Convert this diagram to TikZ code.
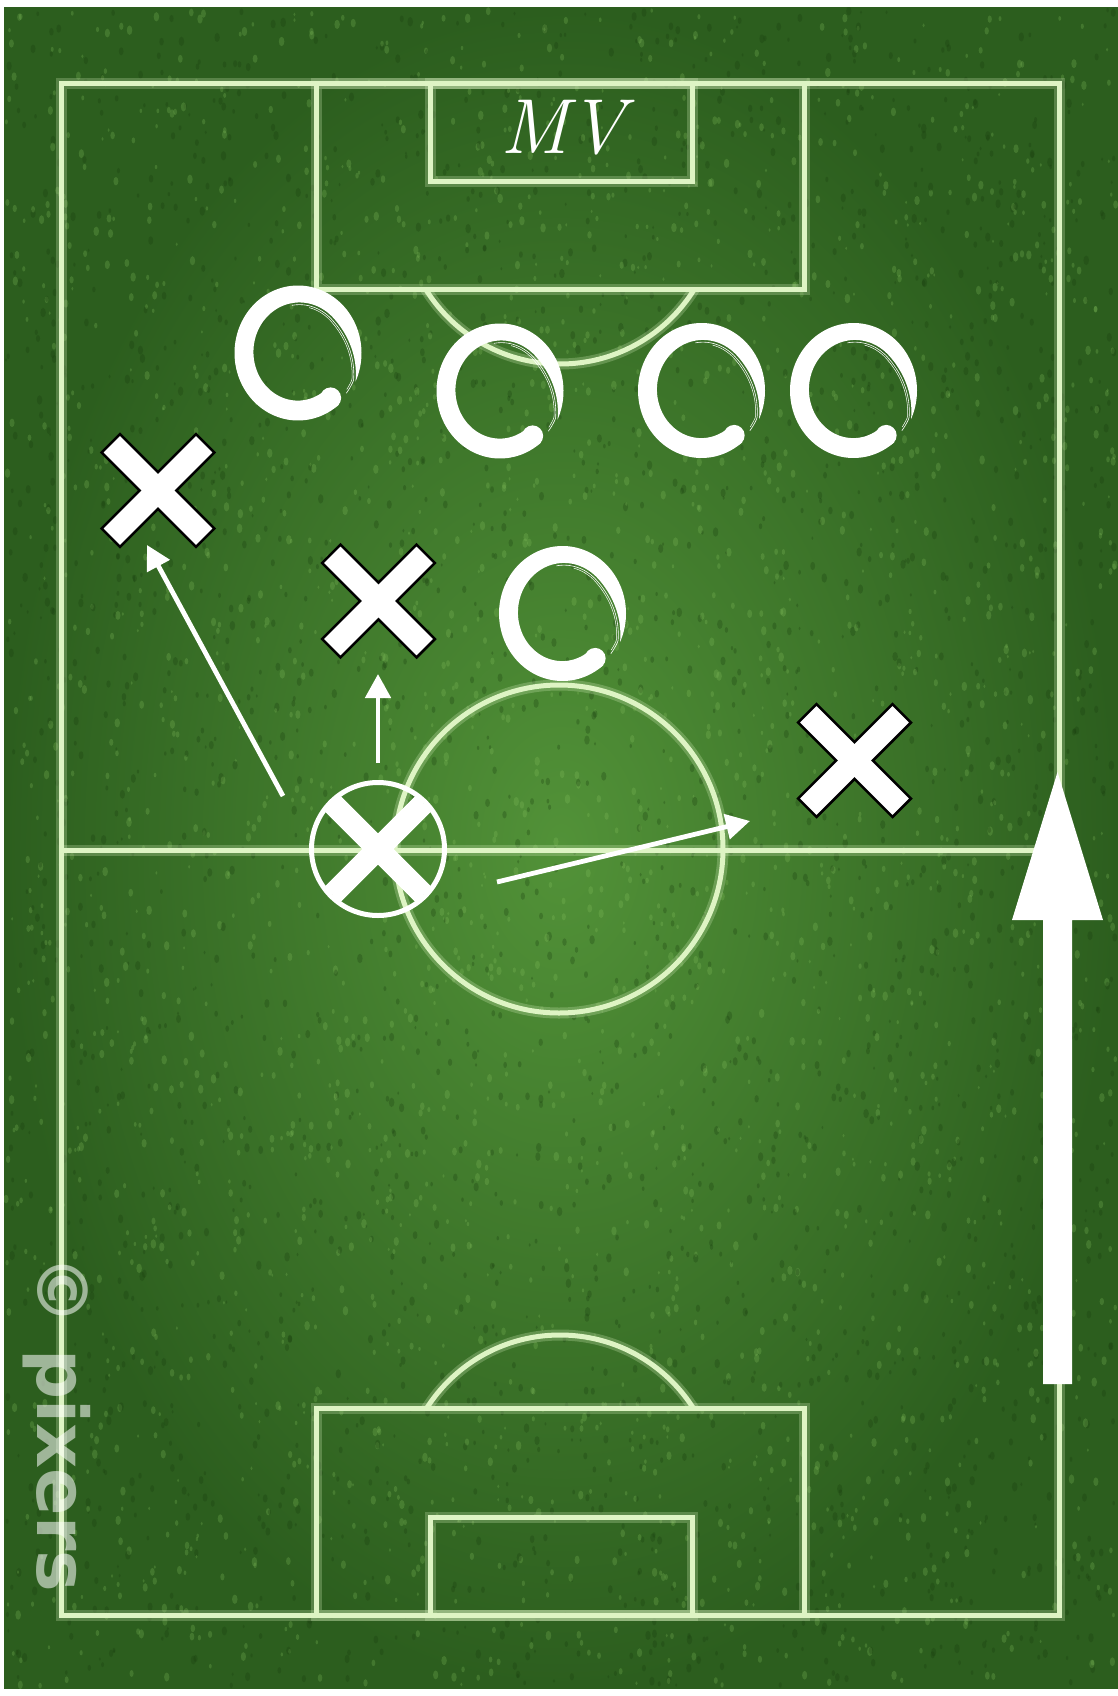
\documentclass[tikz,border=0pt]{standalone}
\usepackage{fontspec}
\newfontfamily\wmfont{DejaVu Sans}
\usetikzlibrary{arrows.meta}
\definecolor{grassA}{RGB}{82,146,56}
\definecolor{grassB}{RGB}{44,94,30}
\definecolor{fieldline}{RGB}{222,244,196}
\definecolor{speckL}{RGB}{135,195,95}
\definecolor{speckD}{RGB}{24,60,14}
\tikzset{
  pitchline/.style={draw=fieldline, line width=5pt,
    preaction={draw=fieldline, line width=11pt, draw opacity=0.25}},
  passarrow/.style={draw=white, line width=4.8pt, -{Triangle[length=24pt,width=25pt]}},
  xmark/.pic={\filldraw[fill=white, draw=black, line width=2.6pt, line join=miter]
    (0,-18.4) -- (38,-56.4) -- (56.4,-38) -- (18.4,0) -- (56.4,38) -- (38,56.4) --
    (0,18.4) -- (-38,56.4) -- (-56.4,38) -- (-18.4,0) -- (-56.4,-38) -- (-38,-56.4) -- cycle;},
  ballx/.pic={\fill[white]
    (0,-15.6) -- (37.8,-53.4) -- (53.4,-37.8) -- (15.6,0) -- (53.4,37.8) -- (37.8,53.4) --
    (0,15.6) -- (-37.8,53.4) -- (-53.4,37.8) -- (-15.6,0) -- (-53.4,-37.8) -- (-37.8,-53.4) -- cycle;},
}
\newcommand\ensoO[2]{%
  \fill[white] plot[domain=-50:-385, samples=120, variable=\t]
      ({#1+63.5*cos(\t)}, {#2-67.5*sin(\t)})
    -- plot[domain=-385:-50, samples=120, variable=\t]
      ({#1+(63.5-ensow(\t))*cos(\t)}, {#2-(67.5-ensow(\t))*sin(\t)}) -- cycle;
  \fill[white] ({#1+53.0*cos(-52)}, {#2-57.0*sin(-52)}) circle (10.5);
  \draw[white, line width=0.6pt] plot[domain=-262:-398, samples=60, variable=\t]
      ({#1+(61.3-ensow(\t))*cos(\t)}, {#2-(65.3-ensow(\t))*sin(\t)});
  \draw[white, line width=0.5pt] plot[domain=-285:-395, samples=60, variable=\t]
      ({#1+(59.5-ensow(\t))*cos(\t)}, {#2-(63.5-ensow(\t))*sin(\t)});
}
\begin{document}
\begin{tikzpicture}[x=1pt, y=-1pt,
  declare function={ensou(\t)=(-50-\t)/335;
    ensof(\t)=max(0,min(1,(1-ensou(\t))/0.2));
    ensow(\t)=(20-7*ensou(\t)*ensou(\t))*ensof(\t)*(2-ensof(\t));}]
\useasboundingbox (0,0) rectangle (1118,1696);
\fill[white] (0,0) rectangle (1118,1696);
% grass
\shade[inner color=grassA, outer color=grassB] (4,8) rectangle (1118,1688);
\begin{scope}
\clip (4,8) rectangle (1118,1688);
\pgfmathsetseed{12345}
\foreach \i in {1,...,5000}{
  \pgfmathsetmacro\sx{6+1110*rnd}
  \pgfmathsetmacro\sy{10+1676*rnd}
  \pgfmathsetmacro\sr{1.0+1.8*rnd}
  \ifodd\i
    \fill[speckL, opacity=0.25] (\sx,\sy) ellipse ({\sr} and {1.7*\sr});
  \else
    \fill[speckD, opacity=0.28] (\sx,\sy) ellipse ({\sr} and {1.7*\sr});
  \fi
}
\end{scope}
% pitch markings
\draw[pitchline] (61,84) rectangle (1059,1615);
\draw[pitchline] (61,850) -- (1059,850);
\draw[pitchline] (559,849) circle (164);
\draw[pitchline] (316,84) rectangle (804,289);
\draw[pitchline] (430,84) rectangle (692,182);
\draw[pitchline] (316,1615) rectangle (804,1408);
\draw[pitchline] (430,1615) rectangle (692,1517);
\begin{scope}
  \clip (0,291) rectangle (1118,600);
  \draw[pitchline] (560,206) circle (158);
\end{scope}
\begin{scope}
  \clip (0,1100) rectangle (1118,1406);
  \draw[pitchline] (560,1493) circle (158);
\end{scope}
% watermark
\node[rotate=-90, anchor=base west, inner sep=0, text=white, text opacity=0.55,
      font=\wmfont\bfseries\fontsize{70}{70}\selectfont] (wm) at (37,1255) {© pixers};
% goalkeeper label
\node[text=white, anchor=base, inner sep=0, font=\fontsize{78}{80}\selectfont\itshape] (mv) at (563,154) {MV};
% opponents (circles)
\coordinate (o1) at (298,353);
\coordinate (o2) at (500,391);
\coordinate (o3) at (701.5,390.5);
\coordinate (o4) at (853.5,390.5);
\coordinate (o5) at (562.5,613.5);
\ensoO{298}{353}
\ensoO{500}{391}
\ensoO{701.5}{390.5}
\ensoO{853.5}{390.5}
\ensoO{562.5}{613.5}
% team mates (crosses)
\coordinate (x1) at (158,490.5);
\coordinate (x2) at (378.5,601);
\coordinate (x3) at (854.5,760.5);
\pic at (x1) {xmark};
\pic at (x2) {xmark};
\pic at (x3) {xmark};
% ball carrier
\coordinate (bc) at (378,849);
\draw[white, line width=5pt] (bc) circle (66.5);
\pic at (bc) {ballx};
% passes
\coordinate (a1s) at (283,796); \coordinate (a1e) at (147,545);
\coordinate (a2s) at (378,763); \coordinate (a2e) at (378,674);
\coordinate (a3s) at (497,882); \coordinate (a3e) at (750,821);
\draw[passarrow] (a1s) -- (a1e);
\draw[passarrow] (a2s) -- (a2e);
\draw[passarrow] (a3s) -- (a3e);
% attacking direction
\coordinate (ba0) at (1057.5,1384);
\coordinate (ba1) at (1057.5,772);
\fill[white] (1043,1384) -- (1072,1384) -- (1072,920) -- (1103,920) -- (ba1)
  -- (1012,920) -- (1043,920) -- cycle;
\end{tikzpicture}
\end{document}
